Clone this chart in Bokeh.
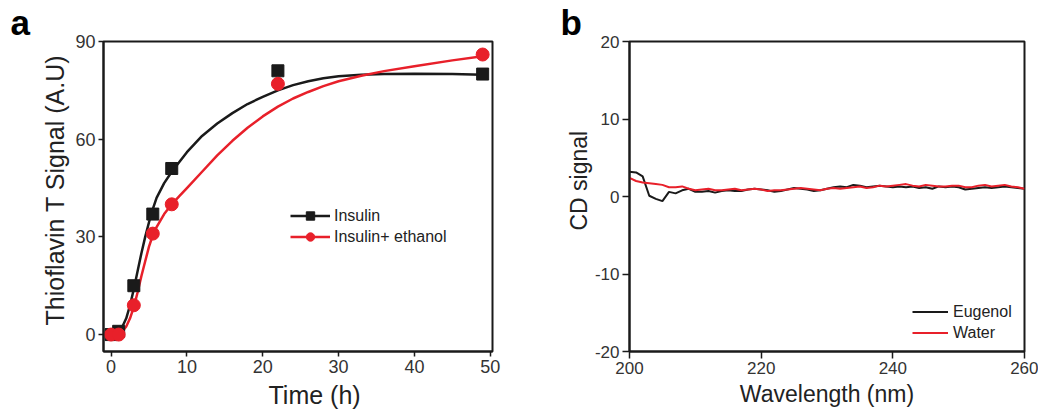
from bokeh.plotting import figure
from bokeh.layouts import row
from bokeh.models import Range1d, Legend, LegendItem, Title, FixedTicker
from bokeh.embed import file_html
from bokeh.resources import INLINE

# ---------------- Panel a data ----------------
time_pts = [0, 1, 3, 5.5, 8, 22, 49]
insulin_pts = [0, 1, 15, 37, 51, 81, 80]
ethanol_pts = [0, 0, 9, 31, 40, 77, 86]

fit_time_ins = [0, 0.5, 1, 1.5, 2, 2.5, 3, 3.5, 4, 4.5, 5, 5.5, 6, 7, 8, 9, 10, 12, 14, 16,
                18, 20, 22, 24, 26, 28, 30, 33, 36, 40, 45, 49]
fit_ins = [0, 0.3, 1, 2.5, 5, 9, 14, 19.5, 25, 30, 34.5, 38.5, 42, 46.5, 50, 53, 56, 61, 64.8, 68,
           70.8, 73, 75, 76.6, 77.8, 78.7, 79.3, 79.8, 80, 80.1, 80, 79.8]
fit_time_eth = [0, 1, 1.5, 2, 2.5, 3, 3.5, 4, 4.5, 5, 5.5, 6, 7, 8, 9, 10, 12, 14, 16, 18, 20,
                22, 24, 26, 28, 30, 33, 36, 40, 45, 49]
fit_eth = [0, 0.2, 1, 2.5, 5, 8.5, 13, 18, 22.5, 27, 30.5, 33, 37, 40, 42.5, 45, 50, 55, 59.5,
           63.5, 67, 70, 72.5, 74.5, 76.3, 77.8, 79.5, 80.9, 82.4, 84.2, 85.5]

# ---------------- Panel b data ----------------
wavelength = list(range(200, 261))
eugenol = [3.2, 3.1, 2.6, 0.1, -0.3, -0.6, 0.6, 0.4, 0.8, 1.0,
           0.6, 0.6, 0.7, 0.5, 0.7, 0.8, 0.7, 0.7, 0.9, 1.0,
           0.9, 0.8, 0.6, 0.7, 0.9, 1.1, 1.0, 0.9, 0.7, 0.8,
           1.0, 1.2, 1.3, 1.2, 1.5, 1.4, 1.2, 1.3, 1.4, 1.3,
           1.2, 1.3, 1.2, 1.3, 1.1, 1.2, 1.0, 1.3, 1.2, 1.3,
           1.2, 0.9, 1.0, 1.1, 1.2, 1.1, 1.2, 1.3, 1.2, 1.1, 1.0]
water = [2.4, 2.0, 1.8, 1.7, 1.6, 1.5, 1.2, 1.2, 1.3, 1.0,
         0.8, 0.9, 1.0, 0.8, 0.8, 0.9, 1.0, 0.8, 0.9, 1.0,
         0.9, 0.7, 0.8, 0.8, 0.9, 1.0, 1.1, 1.0, 0.9, 0.8,
         1.0, 1.1, 1.0, 1.1, 1.2, 1.3, 1.1, 1.2, 1.4, 1.3,
         1.4, 1.5, 1.6, 1.4, 1.3, 1.5, 1.4, 1.3, 1.3, 1.4,
         1.4, 1.2, 1.2, 1.4, 1.5, 1.3, 1.4, 1.5, 1.3, 1.2, 1.0]

a_xticks = [0, 10, 20, 30, 40, 50]
a_yticks = [0, 30, 60, 90]
b_xticks = [200, 220, 240, 260]
b_yticks = [-20, -10, 0, 10, 20]
b_ylabels = {-20: "-20", -10: "-10", 0: "0", 10: "10", 20: "20"}

RED = "#e8202a"
BLACK = "#1a1a1a"
FONT = "Liberation Sans"
TITLE_COLOR = "#222222"


def style(p, tick_size, tick_out):
    p.outline_line_color = BLACK
    p.outline_line_width = 2
    p.xgrid.visible = False
    p.ygrid.visible = False
    for ax in (p.xaxis[0], p.yaxis[0]):
        ax.axis_line_width = 2
        ax.axis_line_color = BLACK
        ax.major_tick_line_width = 1.5
        ax.major_tick_line_color = BLACK
        ax.major_tick_in = 0
        ax.major_tick_out = tick_out
        ax.minor_tick_line_color = None
        ax.major_label_text_font = FONT
        ax.major_label_text_font_size = f"{tick_size}px"
        ax.major_label_text_color = "#333333"
    p.xaxis[0].major_label_standoff = 3
    p.yaxis[0].major_label_standoff = 3


def axis_title(p, text, side, size, standoff, offset, align="left"):
    p.add_layout(Title(text=text, align=align, offset=offset, standoff=standoff,
                       text_font=FONT, text_font_size=f"{size}px", text_font_style="normal",
                       text_color=TITLE_COLOR), side)


def panel_letter(p, text, offset):
    p.add_layout(Title(text=text, align="left", offset=offset, standoff=0,
                       vertical_align="bottom",
                       text_font=FONT, text_font_size="35px", text_font_style="bold",
                       text_color="black"), "above")


# ---------------- Panel a ----------------
pa = figure(width=520, height=415, output_backend="svg", toolbar_location=None,
            x_range=Range1d(-1.0, 50.3), y_range=Range1d(-5.2, 90),
            min_border_left=103, min_border_right=28, min_border_top=40, min_border_bottom=64)
style(pa, 18, 5)
pa.xaxis[0].ticker = FixedTicker(ticks=a_xticks)
pa.yaxis[0].ticker = FixedTicker(ticks=a_yticks)

l1 = pa.line(fit_time_ins, fit_ins, line_color=BLACK, line_width=2.5)
l2 = pa.line(fit_time_eth, fit_eth, line_color=RED, line_width=2.5)
m1 = pa.scatter(time_pts, insulin_pts, marker="square", size=12, fill_color=BLACK, line_color=BLACK)
m2 = pa.scatter(time_pts, ethanol_pts, marker="circle", size=13, fill_color=RED, line_color=RED)

leg_a = Legend(items=[LegendItem(label="Insulin", renderers=[l1, m1]),
                      LegendItem(label="Insulin+ ethanol", renderers=[l2, m2])],
               location=(187, 104), glyph_width=40, glyph_height=21, label_height=21,
               spacing=0, padding=0, margin=0, label_standoff=4,
               label_text_font=FONT, label_text_font_size="16px", label_text_color="#222222",
               border_line_color=None, background_fill_alpha=0)
pa.add_layout(leg_a)

axis_title(pa, "Thioflavin T Signal (A.U)", "left", 25, 8, 26)
axis_title(pa, "Time (h)", "below", 25, 6, 165)
panel_letter(pa, "a", -93)

# ---------------- Panel b ----------------
pb = figure(width=518, height=415, output_backend="svg", toolbar_location=None,
            x_range=Range1d(200, 260), y_range=Range1d(-20, 20),
            min_border_left=109, min_border_right=14, min_border_top=38, min_border_bottom=61)
style(pb, 17, 7)
pb.xaxis[0].ticker = FixedTicker(ticks=b_xticks)
pb.yaxis[0].ticker = FixedTicker(ticks=b_yticks)
pb.yaxis[0].major_label_overrides = b_ylabels

e1 = pb.line(wavelength, eugenol, line_color=BLACK, line_width=2)
w1 = pb.line(wavelength, water, line_color=RED, line_width=2)

leg_b = Legend(items=[LegendItem(label="Eugenol", renderers=[e1]),
                      LegendItem(label="Water", renderers=[w1])],
               location=(283, 8), glyph_width=36, glyph_height=21, label_height=21,
               spacing=0, padding=0, margin=0, label_standoff=5,
               label_text_font=FONT, label_text_font_size="16px", label_text_color="#222222",
               border_line_color=None, background_fill_alpha=0)
pb.add_layout(leg_b)

axis_title(pb, "CD signal", "left", 23, 0, 121)
axis_title(pb, "Wavelength (nm)", "below", 23, 4, 0, align="center")
panel_letter(pb, "b", -69)

layout = row(pa, pb)
open("out.html", "w").write(file_html(layout, INLINE))
